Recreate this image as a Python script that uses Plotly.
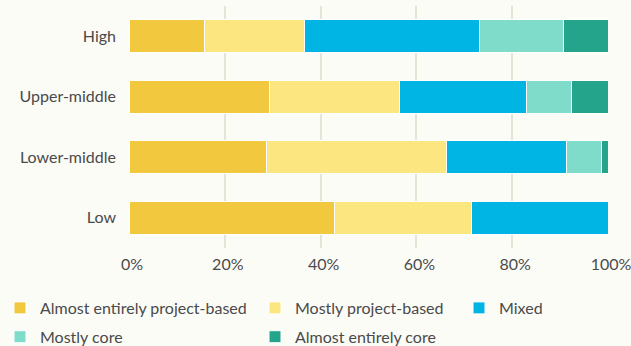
import plotly.graph_objects as go

categories = ["High", "Upper-middle", "Lower-middle", "Low"]
series_names = [
    "Almost entirely project-based",
    "Mostly project-based",
    "Mixed",
    "Mostly core",
    "Almost entirely core",
]
almost_project = [15.8, 29.3, 28.8, 42.9]
mostly_project = [20.8, 27.1, 37.5, 28.6]
mixed = [36.5, 26.6, 25.0, 28.5]
mostly_core = [17.7, 9.3, 7.4, 0.0]
almost_core = [9.2, 7.7, 1.3, 0.0]
x_ticks = [0, 20, 40, 60, 80, 100]
x_tick_labels = ["0%", "20%", "40%", "60%", "80%", "100%"]

series_values = [almost_project, mostly_project, mixed, mostly_core, almost_core]
colors = ["#F2C83E", "#FCE680", "#00B4E4", "#80DCCA", "#24A58B"]
legend_ids = ["legend", "legend2", "legend3", "legend", "legend2"]

fig = go.Figure()
for name, vals, col, lg in zip(series_names, series_values, colors, legend_ids):
    fig.add_trace(go.Bar(
        y=categories, x=vals, name=name, orientation="h",
        marker=dict(color=col, line=dict(color="white", width=1)),
        legend=lg, legendgroup=name,
    ))

font = dict(family="Lato", size=16, color="#4a4a4a")
leg_common = dict(
    orientation="v", xref="container", yref="container",
    xanchor="left", yanchor="top", bgcolor="rgba(0,0,0,0)",
    font=font, tracegroupgap=5, itemwidth=30,
)
top_y = 1 - 291 / 346
fig.update_layout(
    width=631, height=346,
    margin=dict(l=129, r=23, t=6, b=98, autoexpand=False),
    paper_bgcolor="#FCFCF7", plot_bgcolor="#FCFCF7",
    barmode="stack", bargap=0.45,
    font=font,
    legend=dict(x=0.0, y=top_y, **leg_common),
    legend2=dict(x=255 / 631, y=top_y, **leg_common),
    legend3=dict(x=459 / 631, y=top_y, **leg_common),
    xaxis=dict(
        range=[0, 100], tickmode="array", tickvals=x_ticks, ticktext=x_tick_labels,
        showgrid=True, gridcolor="#E6E4D6", gridwidth=1.5,
        zeroline=False, showline=False, ticklabelshift=3,
        ticklabelstandoff=5, ticklabeloverflow="allow",
    ),
    yaxis=dict(
        categoryorder="array", categoryarray=categories, autorange="reversed",
        showgrid=False, zeroline=False, showline=False,
        ticklabelstandoff=12,
    ),
)
fig.write_html("out.html")
